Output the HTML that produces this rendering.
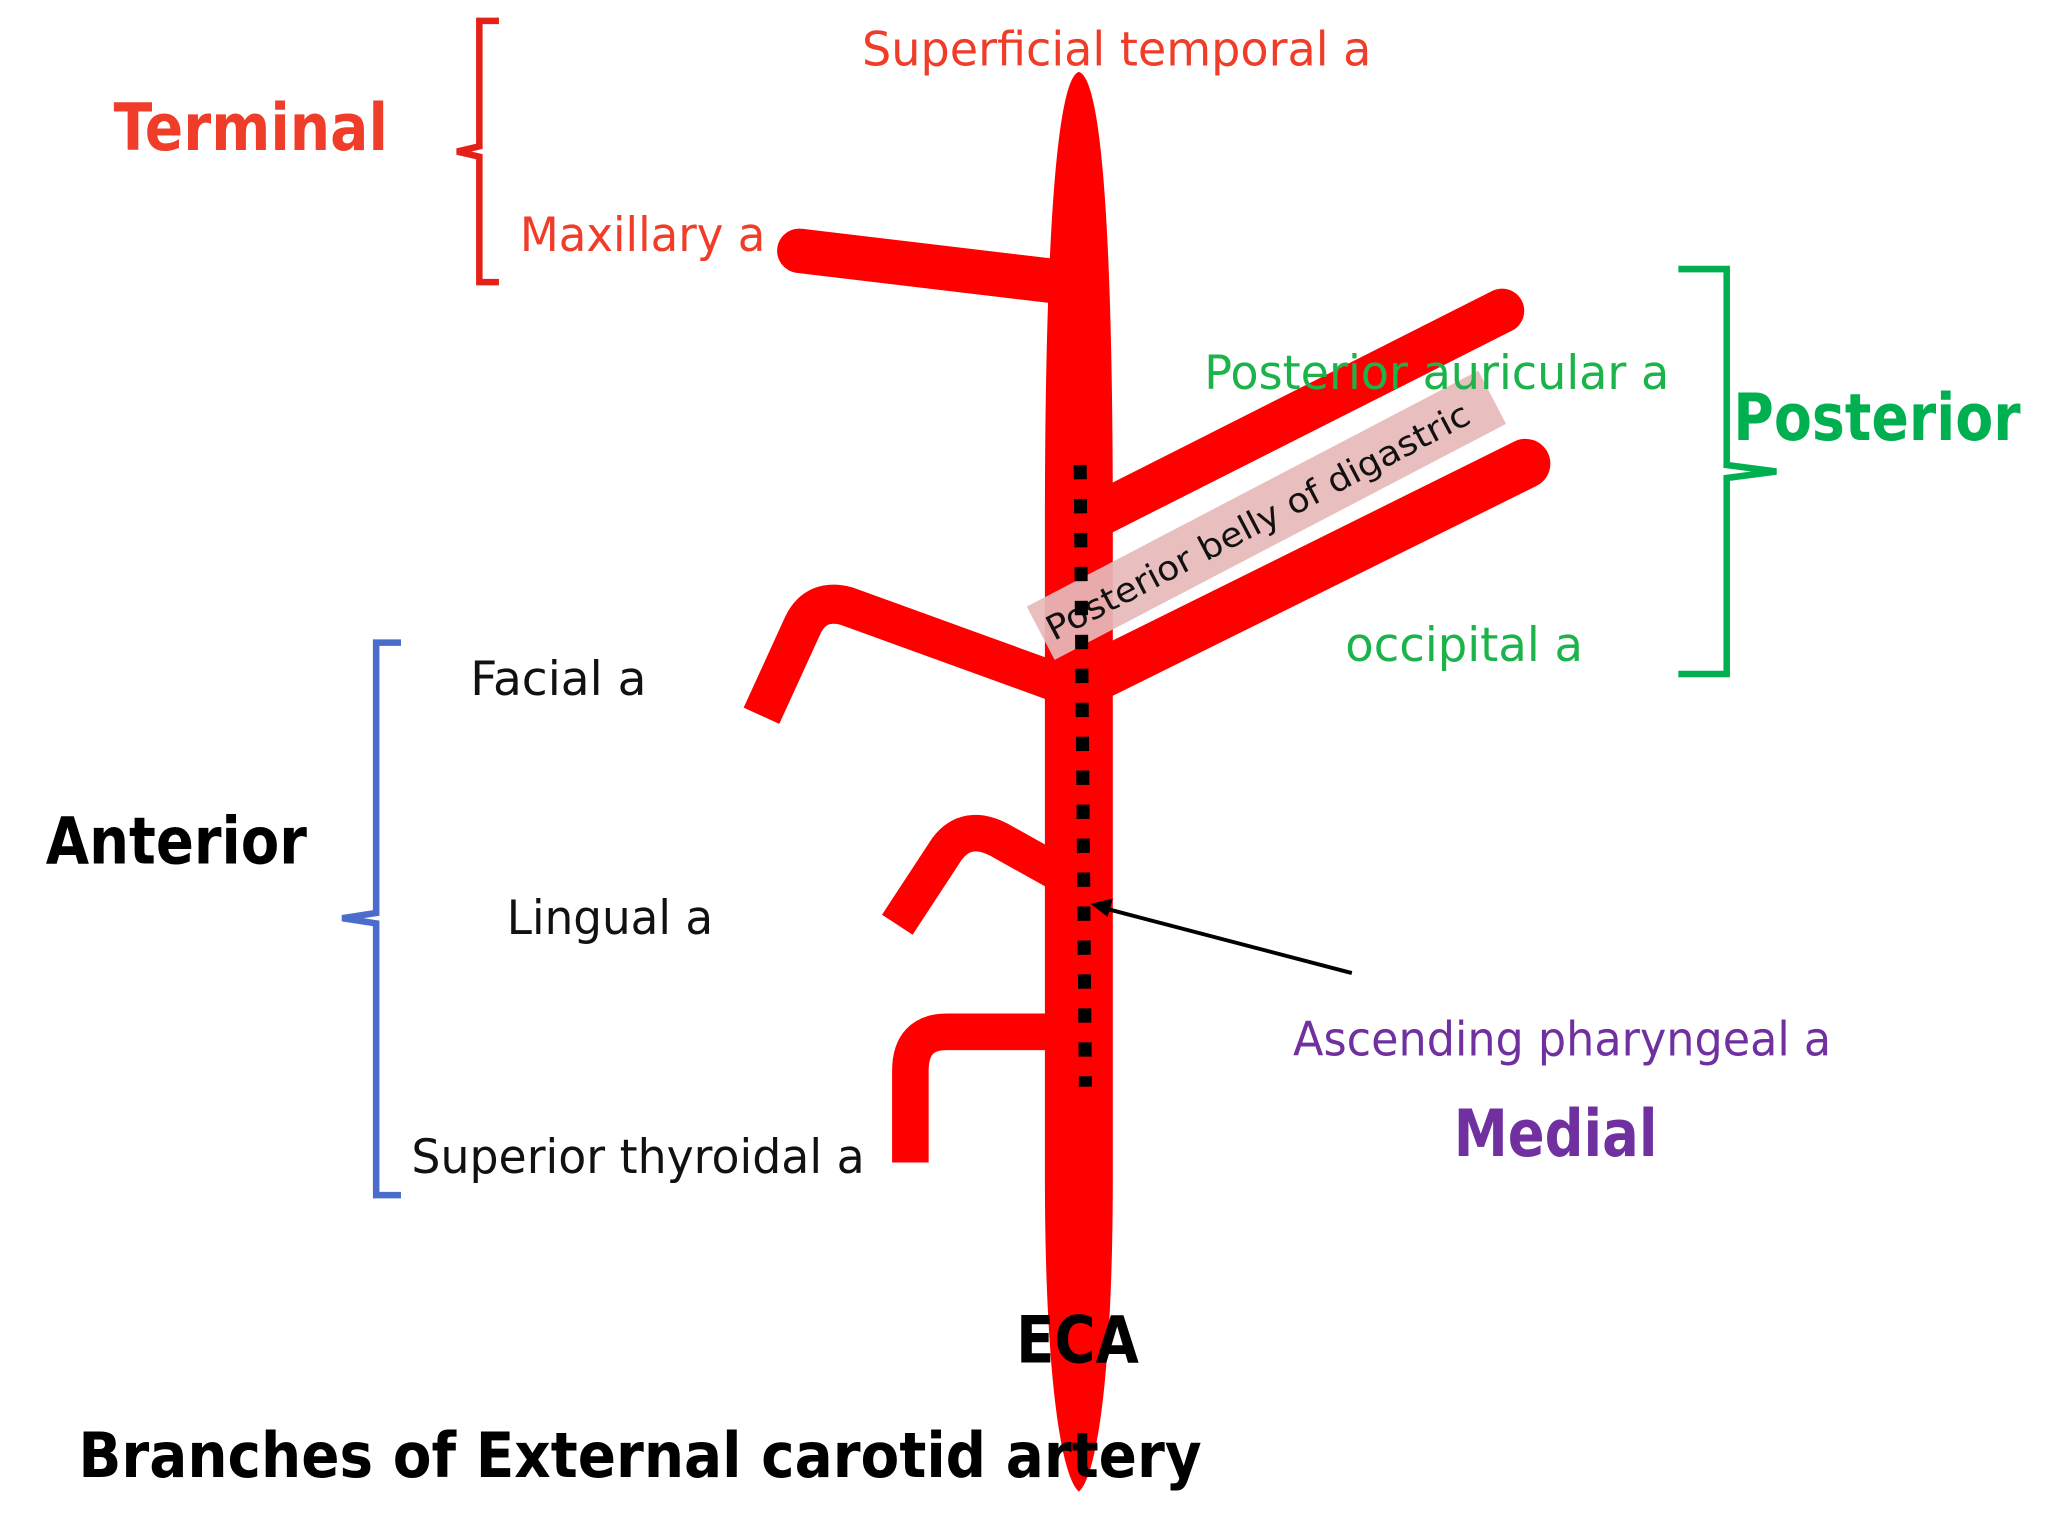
<!DOCTYPE html>
<html><head><meta charset="utf-8"><style>html,body{margin:0;padding:0;background:#fff}svg{display:block}</style></head>
<body>
<svg width="2048" height="1536" viewBox="0 0 1568 1176" preserveAspectRatio="none" xmlns="http://www.w3.org/2000/svg" font-family="'DejaVu Sans','Liberation Sans',sans-serif">
<rect width="1568" height="1176" fill="#fff"/>
<g stroke="#ff0000" fill="none" stroke-linejoin="round">
<path d="M805,215 L612,192" stroke-width="34" stroke-linecap="round"/>
<path d="M845,392 L1150,238" stroke-width="34" stroke-linecap="round"/>
<path d="M845,515 L1168,355" stroke-width="38" stroke-linecap="round"/>
<path d="M808,522 L648,464 Q625,458 615,478 L583,548" stroke-width="30"/>
<path d="M808,667 L765,643 Q740,630 725,650 L687,708" stroke-width="28"/>
<path d="M808,790 L725,790 Q697,790 697,820 L697,890" stroke-width="28"/>
</g>
<path d="M826,55 C845,60 852,200 852,400 L852,900 C852,1050 840,1130 826,1142 C812,1130 800,1050 800,900 L800,400 C800,200 808,60 826,55 Z" fill="#ff0000"/>
<g transform="translate(788,468) rotate(-27.6)">
<rect x="0" y="-4" width="390" height="46" fill="#e6b9b8" opacity="0.92"/>
<text x="6" y="29" font-size="26" fill="#111" textLength="362" lengthAdjust="spacingAndGlyphs">Posterior belly of digastric</text>
</g>
<line x1="827" y1="356" x2="831" y2="832" stroke="#000" stroke-width="10" stroke-dasharray="11 15"/>
<line x1="1035" y1="745" x2="848" y2="696" stroke="#000" stroke-width="3"/>
<path d="M835,692 L852,688 L848,702 Z" fill="#000"/>
<path d="M382,16 L367,16 L367,112 L350,116 L367,120 L367,216 L382,216" fill="none" stroke="#e32119" stroke-width="5"/>
<path d="M1285,206 L1322,206 L1322,356 L1360,361 L1322,366 L1322,516 L1285,516" fill="none" stroke="#00b050" stroke-width="5"/>
<path d="M307,492 L288,492 L288,699 L262,703 L288,707 L288,915 L307,915" fill="none" stroke="#4a6dcc" stroke-width="5"/>
<g font-size="36">
<text x="660" y="50" fill="#ef3d2a" textLength="390" lengthAdjust="spacingAndGlyphs">Superficial temporal a</text>
<text x="398" y="192" fill="#ef3d2a" textLength="188" lengthAdjust="spacingAndGlyphs">Maxillary a</text>
<text x="922" y="298" fill="#1db34b" textLength="356" lengthAdjust="spacingAndGlyphs">Posterior auricular a</text>
<text x="1030" y="506" fill="#1db34b" textLength="182" lengthAdjust="spacingAndGlyphs">occipital a</text>
<text x="360" y="532" fill="#111" textLength="135" lengthAdjust="spacingAndGlyphs">Facial a</text>
<text x="388" y="715" fill="#111" textLength="158" lengthAdjust="spacingAndGlyphs">Lingual a</text>
<text x="315" y="898" fill="#111" textLength="347" lengthAdjust="spacingAndGlyphs">Superior thyroidal a</text>
<text x="990" y="808" fill="#7030a0" textLength="412" lengthAdjust="spacingAndGlyphs">Ascending pharyngeal a</text>
</g>
<g font-size="50" font-weight="bold">
<text x="87" y="115" fill="#ef3d2a" textLength="210" lengthAdjust="spacingAndGlyphs">Terminal</text>
<text x="1327" y="337" fill="#00b050" textLength="220" lengthAdjust="spacingAndGlyphs">Posterior</text>
<text x="35" y="661" fill="#000" textLength="200" lengthAdjust="spacingAndGlyphs">Anterior</text>
<text x="1113" y="885" fill="#7030a0" textLength="156" lengthAdjust="spacingAndGlyphs">Medial</text>
<text x="778" y="1043" fill="#000" textLength="94" lengthAdjust="spacingAndGlyphs">ECA</text>
<text x="60" y="1131" fill="#000" font-size="48" textLength="860" lengthAdjust="spacingAndGlyphs">Branches of External carotid artery</text>
</g>
</svg>
</body></html>
